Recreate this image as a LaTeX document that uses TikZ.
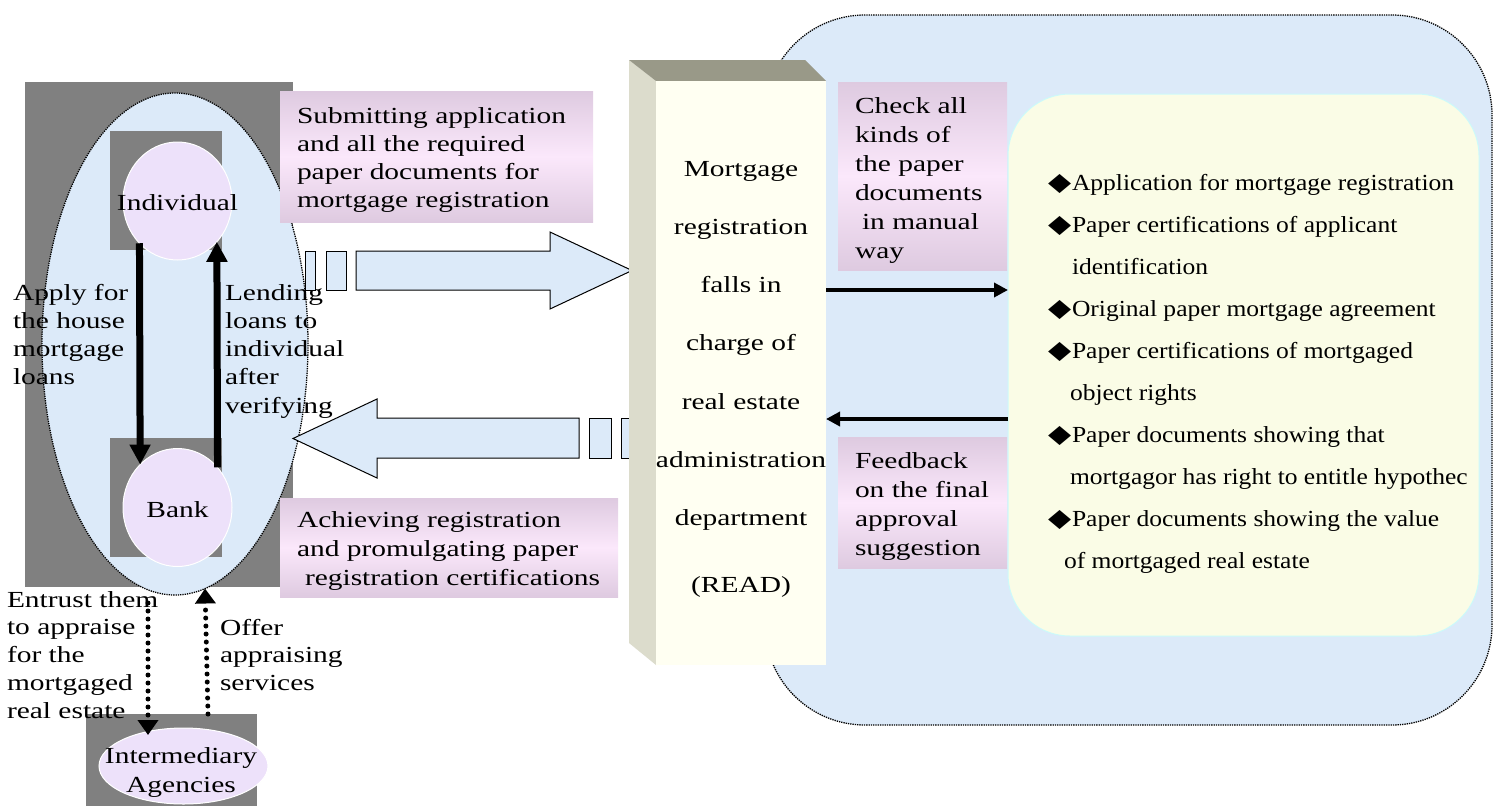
\documentclass[tikz,border=0pt]{standalone}
\usepackage{fontspec}
\setmainfont{Liberation Serif}[FakeStretch=1.28]
\newfontfamily\listfont{Liberation Serif}[FakeStretch=1.11]
\newfontfamily\symfont{DejaVu Sans}[FakeStretch=1.2]
\usetikzlibrary{shapes.geometric,arrows.meta}
\definecolor{grayb}{RGB}{128,128,128}
\definecolor{skyb}{RGB}{220,234,249}
\definecolor{lav}{RGB}{237,225,250}
\definecolor{pinkd}{RGB}{222,202,224}
\definecolor{pinkl}{RGB}{251,232,251}
\definecolor{ivory}{RGB}{255,255,242}
\definecolor{sidec}{RGB}{220,220,204}
\definecolor{topc}{RGB}{153,153,136}
\definecolor{docy}{RGB}{250,252,230}
\definecolor{docb}{RGB}{204,250,250}
\newcommand\tl[1]{\begin{tabular}[t]{@{}l@{}}#1\end{tabular}}
\newcommand\tc[1]{\begin{tabular}[t]{@{}c@{}}#1\end{tabular}}
\newcommand\bul{\makebox[24pt][l]{{\symfont\fontsize{25}{25}\selectfont ◆}}}
\begin{document}
\begin{tikzpicture}[x=1pt,y=-1pt,
  every node/.style={inner sep=0pt, outer sep=0pt},
  txt/.style={anchor=base west},
  txtc/.style={anchor=base},
  pinkbox/.style={rectangle, top color=pinkd, bottom color=pinkd, middle color=pinkl},
  blob/.style={fill=skyb, draw=black, densely dotted, line width=1.3pt},
  person/.style={ellipse, fill=lav, draw=white, line width=1pt, minimum width=109pt, minimum height=118pt},
  fatarrow/.style={line width=7pt, -{Triangle[width=20pt,length=20pt]}},
  dotarrow/.style={line width=5pt, line cap=round, dash pattern=on 0pt off 8pt, -{Triangle[width=20pt,length=15pt]}},
  midarrow/.style={line width=4pt, -{Triangle[width=14pt,length=14pt]}},
  blockarrow/.style={fill=skyb, draw=black, line width=1pt}
]
\useasboundingbox (0,0) rectangle (1501,806);

% right zone
\node[blob, rounded corners=100pt, minimum width=727pt, minimum height=710pt] (zone) at (1128.5,370) {};

% left group
\fill[grayb] (25,82) rectangle (293,587);
\node[blob, ellipse, minimum width=266pt, minimum height=502pt] (grp) at (175,344) {};
\fill[grayb] (110,131) rectangle (222,250);
\fill[grayb] (110,438) rectangle (222,557);
\node[person] (indiv) at (177.5,201) {};
\node[person] (bank) at (177.5,507.5) {};
\node[txtc, font=\fontsize{23}{28}\selectfont] (indivt) at (177.5,210) {Individual};
\node[txtc, font=\fontsize{23}{28}\selectfont] (bankt) at (177.5,517) {Bank};
\draw[fatarrow] (indiv.228.8) -- (bank.131.2);
\draw[fatarrow] (bank.45.85) -- (indiv.314.15);

% intermediary
\node[fill=grayb, minimum width=171pt, minimum height=92pt] (intergray) at (171.5,760) {};
\node[ellipse, fill=lav, draw=white, line width=1pt, minimum width=169pt, minimum height=76pt] (inter) at (183.5,766) {};
\node[txtc, font=\fontsize{23}{29}\selectfont] (intert) at (181,763) {\tc{Intermediary\\Agencies}};

\coordinate (dl) at (148,0);
\coordinate (dr) at (208,0);
\draw[dotarrow, shorten <=8pt, shorten >=-7pt] (grp.south -| dl) -- (inter.north -| dl);
\draw[dotarrow] (intergray.north -| dr) -- (grp.277.7);

% left texts
\node[txt, font=\fontsize{23}{28.3}\selectfont] (applyt) at (13,300) {\tl{Apply for\\the house\\mortgage\\loans}};
\node[txt, font=\fontsize{23}{28.3}\selectfont] (lendt) at (225,300) {\tl{Lending\\loans to\\individual\\after\\verifying}};
\node[txt, font=\fontsize{23}{27.8}\selectfont] (entt) at (7,607) {\tl{Entrust them\\to appraise\\for the\\mortgaged\\real estate}};
\node[txt, font=\fontsize{23}{27.8}\selectfont] (offt) at (220,635) {\tl{Offer\\appraising\\services}};

% pink boxes left
\node[pinkbox, minimum width=313pt, minimum height=131pt] (boxA) at (436.5,156.5) {};
\node[txt, font=\fontsize{23}{28}\selectfont] (boxAt) at (297,123) {\tl{Submitting application\\and all the required\\paper documents for\\mortgage registration}};
\node[pinkbox, minimum width=338pt, minimum height=99pt] (boxB) at (449,547.5) {};
\node[txt, font=\fontsize{23}{29}\selectfont] (boxBt) at (297,527) {\tl{Achieving registration\\and promulgating paper\\\hspace*{8pt}registration certifications}};

% block arrows
\draw[blockarrow] (356,251) -- (550,251) -- (550,232) -- (632,270.5) -- (550,309) -- (550,290) -- (356,290) -- cycle;
\draw[blockarrow] (305,251) rectangle (315,290);
\draw[blockarrow] (326,251) rectangle (346,290);
\draw[blockarrow] (579,418) -- (377,418) -- (377,399) -- (293,438.5) -- (377,478) -- (377,458) -- (579,458) -- cycle;
\draw[blockarrow] (589,418) rectangle (611,458);
\draw[blockarrow] (621,418) rectangle (632,458);

% READ column
\fill[sidec] (629,60) -- (656,81) -- (656,665) -- (629,643) -- cycle;
\fill[topc] (629,60) -- (805,60) -- (826,81) -- (656,81) -- cycle;
\node[fill=ivory, minimum width=170pt, minimum height=584pt] (read) at (741,373) {};
\node[txtc, font=\fontsize{23}{58.3}\selectfont] (readt) at (741,176) {\tc{Mortgage\\registration\\falls in\\charge of\\real estate\\administration\\department\\[8pt](READ)}};

% check / feedback boxes
\node[pinkbox, minimum width=169pt, minimum height=188pt] (chk) at (922.5,176) {};
\node[txt, font=\fontsize{23}{29}\selectfont] (chkt) at (855,113) {\tl{Check all\\kinds of\\the paper\\documents\\\hspace*{7pt}in manual\\way}};
\node[pinkbox, minimum width=169pt, minimum height=130.5pt] (fdb) at (922.5,502.75) {};
\node[txt, font=\fontsize{23}{29}\selectfont] (fdbt) at (855,468) {\tl{Feedback\\on the final\\approval\\suggestion}};

% documents box
\node[fill=docy, draw=docb, line width=1pt, rounded corners=62pt, minimum width=471pt, minimum height=542pt] (docs) at (1243.5,365) {};
\node[txt, font=\listfont\fontsize{23}{42}\selectfont] (doct) at (1048,190) {\tl{\bul Application for mortgage registration\\
\bul Paper certifications of applicant\\
\hspace*{24pt}identification\\
\bul Original paper mortgage agreement\\
\bul Paper certifications of mortgaged\\
\hspace*{22pt}object rights\\
\bul Paper documents showing that\\
\hspace*{22pt}mortgagor has right to entitle hypothec\\
\bul Paper documents showing the value\\
\hspace*{16pt}of mortgaged real estate}};

\coordinate (ya) at (0,290);
\coordinate (yb) at (0,419);
\draw[midarrow] (read.east |- ya) -- (docs.west |- ya);
\draw[midarrow] (docs.west |- yb) -- (read.east |- yb);
\end{tikzpicture}
\end{document}
